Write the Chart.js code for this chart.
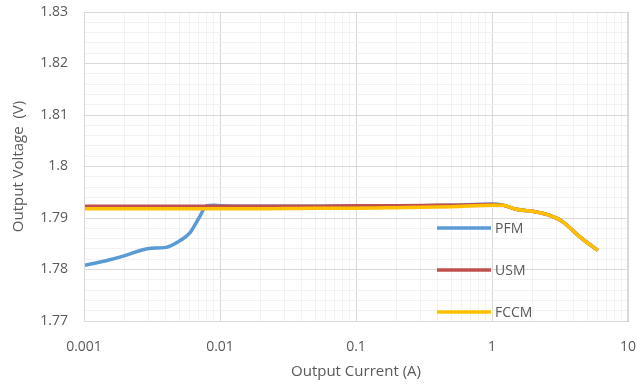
<!DOCTYPE html>
<html>
<head>
<meta charset="utf-8">
<script src="https://cdn.jsdelivr.net/npm/chart.js@4.4.0/dist/chart.umd.min.js"></script>
<style>
    html, body { margin: 0; padding: 0; background: #fff; }
    #wrap { width: 637px; height: 391px; position: relative; }
</style>
</head>
<body>
<div id="wrap"><canvas id="voltageChart"></canvas></div>
<script>
// output current (A) and output voltage (V)
const pfmCurrent = [0.001, 0.0015, 0.002, 0.0026, 0.003, 0.004, 0.005, 0.006, 0.007, 0.008, 0.009, 0.01, 0.02, 0.05, 0.1, 0.2, 0.5, 1, 1.2, 1.5, 2, 2.6, 3.3, 4.4, 6];
const pfmVoltage = [1.7808, 1.7818, 1.7827, 1.7837, 1.7841, 1.7843, 1.7855, 1.7871, 1.7900, 1.7924, 1.7925, 1.7924, 1.7923, 1.7923, 1.7924, 1.7924, 1.7925, 1.7927, 1.7925, 1.7917, 1.7913, 1.7906, 1.7893, 1.7864, 1.7837];

const usmCurrent = [0.001, 0.002, 0.005, 0.01, 0.02, 0.05, 0.1, 0.2, 0.5, 1, 1.2, 1.5, 2, 2.6, 3.3, 4.4, 6];
const usmVoltage = [1.7923, 1.7923, 1.7923, 1.7923, 1.7923, 1.7923, 1.7924, 1.7924, 1.7925, 1.7926, 1.7925, 1.7917, 1.7913, 1.7906, 1.7893, 1.7864, 1.7837];

const fccmCurrent = [0.001, 0.002, 0.005, 0.01, 0.02, 0.05, 0.1, 0.2, 0.5, 1, 1.2, 1.5, 2, 2.6, 3.3, 4.4, 6];
const fccmVoltage = [1.7918, 1.7918, 1.7918, 1.7918, 1.7918, 1.7919, 1.7919, 1.7920, 1.7922, 1.7925, 1.7925, 1.7917, 1.7913, 1.7906, 1.7893, 1.7864, 1.7837];

const seriesNames = ['PFM', 'USM', 'FCCM'];
const seriesColors = ['#5B9BD5', '#C0504D', '#FFC000'];

const xTickValues = [];
for (let e = -3; e <= 0; e++) {
    for (let m = 1; m <= 9; m++) xTickValues.push(Number((m * Math.pow(10, e)).toPrecision(3)));
}
xTickValues.push(10);

const yMin = 1.77, yMax = 1.83;

function toPoints(xs, ys) {
    return xs.map((x, i) => ({x: x, y: ys[i]}));
}

function isDecade(v) {
    const l = Math.log10(v);
    return Math.abs(l - Math.round(l)) < 1e-6;
}

function isMajorY(v) {
    return Math.abs(v * 100 - Math.round(v * 100)) < 1e-6;
}

const fontFamily = "'Open Sans', 'Liberation Sans', sans-serif";

// legend drawn inside the plot area, like the original
const insideLegend = {
    id: 'insideLegend',
    afterDatasetsDraw(chart) {
        const ctx = chart.ctx;
        const rows = [228, 270, 312];
        ctx.save();
        seriesNames.forEach((name, i) => {
            ctx.strokeStyle = seriesColors[i];
            ctx.lineWidth = 3.5;
            ctx.beginPath();
            ctx.moveTo(437, rows[i]);
            ctx.lineTo(491, rows[i]);
            ctx.stroke();
            ctx.fillStyle = '#595959';
            ctx.font = "14px " + fontFamily;
            ctx.textBaseline = 'middle';
            ctx.fillText(name, 495, rows[i] + 1);
        });
        ctx.restore();
    }
};

const ctx = document.getElementById('voltageChart');

new Chart(ctx, {
    type: 'line',
    data: {
        datasets: [
            {
                label: 'PFM',
                data: toPoints(pfmCurrent, pfmVoltage),
                borderColor: seriesColors[0],
                borderWidth: 3.5,
                order: 3,
            },
            {
                label: 'USM',
                data: toPoints(usmCurrent, usmVoltage),
                borderColor: seriesColors[1],
                borderWidth: 3.5,
                order: 2,
            },
            {
                label: 'FCCM',
                data: toPoints(fccmCurrent, fccmVoltage),
                borderColor: seriesColors[2],
                borderWidth: 3.5,
                order: 1,
            }
        ]
    },
    options: {
        responsive: true,
        maintainAspectRatio: false,
        animation: false,
        cubicInterpolationMode: 'monotone',
        pointRadius: 0,
        layout: {
            padding: {top: 12, right: 9, left: 6, bottom: 6}
        },
        scales: {
            x: {
                type: 'logarithmic',
                min: 0.001,
                max: 10,
                afterBuildTicks: scale => {
                    scale.ticks = xTickValues.map(v => ({value: v}));
                },
                afterFit: scale => {
                    scale.height = 64;
                    scale.paddingLeft = 0;
                    scale.paddingRight = 0;
                },
                border: {display: true, color: '#BFBFBF', width: 1},
                grid: {
                    drawTicks: false,
                    color: c => c.tick && isDecade(c.tick.value) ? '#D9D9D9' : '#F2F2F2',
                    lineWidth: 1,
                },
                ticks: {
                    autoSkip: false,
                    maxRotation: 0,
                    padding: 18,
                    color: '#595959',
                    font: {family: fontFamily, size: 14},
                    callback: v => isDecade(v) ? String(Number(v.toPrecision(3))) : '',
                },
                title: {
                    display: true,
                    text: 'Output Current (A)',
                    color: '#595959',
                    font: {family: fontFamily, size: 15},
                    padding: {top: 0}
                }
            },
            y: {
                min: yMin,
                max: yMax,
                afterFit: scale => {
                    scale.width = 78;
                    scale.paddingTop = 0;
                    scale.paddingBottom = 0;
                },
                border: {display: true, color: '#BFBFBF', width: 1},
                grid: {
                    drawTicks: false,
                    color: c => c.tick && isMajorY(c.tick.value) ? '#D9D9D9' : '#F2F2F2',
                },
                ticks: {
                    stepSize: 0.002,
                    autoSkip: false,
                    padding: 16,
                    color: '#595959',
                    font: {family: fontFamily, size: 14},
                    callback: v => isMajorY(v) ? String(Number(v.toFixed(2))) : '',
                },
                title: {
                    display: true,
                    text: 'Output Voltage  (V)',
                    color: '#595959',
                    font: {family: fontFamily, size: 15},
                    padding: {bottom: 0}
                }
            }
        },
        plugins: {
            legend: {display: false},
            tooltip: {enabled: false}
        }
    },
    plugins: [
        insideLegend,
        {
            // box round the plot area
            id: 'plotBorder',
            afterDraw(chart) {
                const a = chart.chartArea;
                const c = chart.ctx;
                c.save();
                c.strokeStyle = '#D9D9D9';
                c.lineWidth = 1;
                c.strokeRect(a.left + 0.5, a.top + 0.5, a.right - a.left - 1, a.bottom - a.top);
                c.restore();
            }
        }
    ]
})
</script>
</body>
</html>
